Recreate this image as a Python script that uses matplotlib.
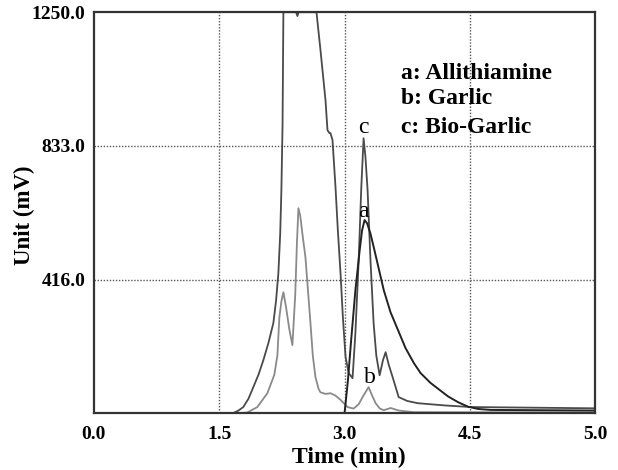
import matplotlib
matplotlib.use("Agg")
import matplotlib.pyplot as plt

# a: Allithiamine standard
time_a = [0.0, 2.98, 3.0, 3.04, 3.08, 3.13, 3.18, 3.21, 3.24, 3.27, 3.31, 3.35,
          3.41, 3.47, 3.55, 3.64, 3.73, 3.83, 3.91, 4.03, 4.15, 4.24, 4.36,
          4.48, 4.6, 4.75, 6.0]
mv_a = [0, 0, 0, 100, 230, 383, 505, 570, 602, 592, 560, 517,
        450, 383, 315, 259, 203, 156, 125, 94, 70, 52, 34,
        20, 13, 10, 8]

# b: Garlic
time_b = [0.0, 1.75, 1.836, 1.956, 2.076, 2.16, 2.196, 2.22, 2.245, 2.268, 2.3,
          2.34, 2.376, 2.41, 2.43, 2.448, 2.47, 2.5, 2.532, 2.56, 2.592, 2.62,
          2.652, 2.69, 2.712, 2.77, 2.832, 2.89, 2.95, 3.036, 3.108, 3.17,
          3.216, 3.288, 3.33, 3.372, 3.42, 3.468, 3.552, 3.65, 3.83, 6.0]
mv_b = [0, 0, 2, 19, 62, 120, 180, 299, 350, 377, 330,
        260, 212, 370, 530, 639, 615, 550, 486, 390, 281, 180,
        112, 75, 65, 60, 62, 55, 42, 19, 14, 28,
        50, 81, 55, 31, 15, 9, 16, 8, 3, 2]

# c: Bio-Garlic
time_c = [0.0, 1.6, 1.668, 1.73, 1.788, 1.85, 1.908, 1.97, 2.028, 2.09, 2.148,
          2.18, 2.208, 2.23, 2.244, 2.258, 2.268, 2.42, 2.436, 2.45, 2.664,
          2.712, 2.772, 2.796, 2.82, 2.832, 2.856, 2.892, 2.92, 2.952, 2.98,
          3.012, 3.05, 3.096, 3.13, 3.17, 3.2, 3.228, 3.25, 3.276, 3.31,
          3.348, 3.38, 3.42, 3.46, 3.492, 3.53, 3.576, 3.648, 3.75, 3.876,
          4.2, 4.51, 6.0]
mv_c = [0, 0, 0, 8, 19, 45, 81, 120, 165, 220, 281,
        350, 436, 560, 695, 900, 1250, 1250, 1238, 1250, 1250,
        1132, 976, 882, 873, 873, 851, 704, 570, 436, 300,
        175, 125, 109, 250, 480, 700, 857, 800, 695, 480,
        281, 180, 118, 165, 190, 150, 112, 50, 38, 31,
        24, 19, 15]

x_ticks = [0.0, 1.5, 3.0, 4.5, 6.0]
x_labels = ["0.0", "1.5", "3.0", "4.5", "5.0"]
y_ticks = [416.0, 833.0, 1250.0]
y_labels = ["416.0", "833.0", "1250.0"]

plt.rcParams['font.family'] = ['Liberation Serif', 'DejaVu Serif']

fig = plt.figure(figsize=(6.18, 4.70), dpi=100)
ax = fig.add_axes([0.152, 0.121, 0.811, 0.853])

ax.plot(time_b, mv_b, color="#8a8a8a", lw=1.3)
ax.plot(time_c, mv_c, color="#4a4a4a", lw=1.3)
ax.plot(time_a, mv_a, color="#222222", lw=1.4)

ax.set_xlim(0, 6.0)
ax.set_ylim(0, 1250)
ax.set_xticks(x_ticks)
ax.set_xticklabels(x_labels, fontsize=14, fontweight="bold")
ax.set_yticks(y_ticks)
ax.set_yticklabels(y_labels, fontsize=14, fontweight="bold")
ax.tick_params(axis="x", length=0, pad=9)
ax.tick_params(axis="y", length=0, pad=6)

for x in [1.5, 3.0, 4.5]:
    ax.axvline(x, color="#555555", lw=1, ls=(0, (1, 1.2)), zorder=0)
for y in [416.0, 833.0]:
    ax.axhline(y, color="#555555", lw=1, ls=(0, (1, 1.2)), zorder=0)

for s in ax.spines.values():
    s.set_linewidth(1.6)
    s.set_color("#333333")

ax.set_xlabel("Time (min)", fontsize=17, fontweight="bold", va="center")
ax.xaxis.set_label_coords(0.508, -0.11)
ax.set_ylabel("Unit (mV)", fontsize=16.5, fontweight="bold", va="center")
ax.yaxis.set_label_coords(-0.138, 0.494)

# legend text
ax.text(3.67, 1060, "a: Allithiamine", fontsize=17, fontweight="bold", va="center")
ax.text(3.67, 982, "b: Garlic", fontsize=17, fontweight="bold", va="center")
ax.text(3.67, 891, "c: Bio-Garlic", fontsize=17, fontweight="bold", va="center")

# peak labels
ax.text(3.23, 891, "c", fontsize=17, ha="center", va="center")
ax.text(3.23, 630, "a", fontsize=17, ha="center", va="center")
ax.text(3.30, 112, "b", fontsize=17, ha="center", va="center")

fig.savefig("out.png", dpi=100)
